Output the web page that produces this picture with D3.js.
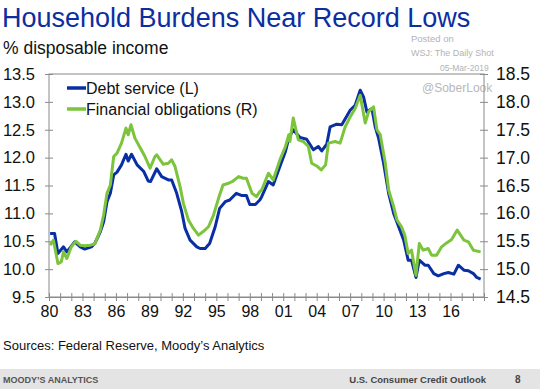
<!DOCTYPE html>
<html>
<head>
<meta charset="utf-8">
<script src="https://cdn.jsdelivr.net/npm/d3@7"></script>
<style>
  body { margin: 0; background: #fff; }
  svg { display: block; font-family: Arial, "Liberation Sans", sans-serif; }
</style>
</head>
<body>
<svg id="chart" width="540" height="389"></svg>
<script>
// Debt service ratio (left axis), % of disposable income
const debtDates = [1980.1, 1980.5, 1980.8, 1981.3, 1981.6, 1982.3, 1982.8, 1983.2, 1983.8, 1984.1,
  1984.6, 1984.9, 1985.2, 1985.5, 1985.8, 1986.1, 1986.5, 1986.9, 1987.1, 1987.4, 1987.9, 1988.5,
  1988.9, 1989.1, 1989.66, 1990.1, 1990.7, 1991.0, 1991.45, 1991.9, 1992.2, 1992.65, 1993.25,
  1993.55, 1994.0, 1994.4, 1994.9, 1995.3, 1995.8, 1996.2, 1996.8, 1997.3, 1997.7, 1998.0, 1998.5,
  1998.9, 1999.07, 1999.67, 2000.1, 2000.7, 2001.2, 2001.5, 2001.9, 2002.5, 2003.1, 2003.7, 2004.15,
  2004.45, 2004.9, 2005.2, 2005.8, 2006.25, 2007.0, 2007.45, 2007.9, 2008.2, 2008.5, 2008.95,
  2009.25, 2009.55, 2010.0, 2010.45, 2010.9, 2011.35, 2011.8, 2012.2, 2012.5, 2012.9, 2013.2,
  2013.7, 2014.0, 2014.5, 2014.9, 2015.4, 2015.8, 2016.3, 2016.7, 2017.2, 2017.6, 2018.05, 2018.35, 2018.7];
const debtValues = [10.64, 10.64, 10.28, 10.40, 10.31, 10.49, 10.40, 10.36, 10.40, 10.46,
  10.67, 10.85, 11.21, 11.36, 11.69, 11.74, 11.87, 12.06, 11.94, 12.06, 11.87, 11.75,
  11.58, 11.57, 11.80, 11.66, 11.60, 11.60, 11.36, 11.03, 10.73, 10.52, 10.40,
  10.37, 10.37, 10.46, 10.76, 11.09, 11.21, 11.24, 11.36, 11.32, 11.32, 11.16, 11.16,
  11.24, 11.30, 11.57, 11.51, 11.84, 12.11, 12.35, 12.50, 12.36, 12.33, 12.14, 12.20,
  12.12, 12.24, 12.55, 12.60, 12.59, 12.85, 12.94, 13.21, 13.09, 12.82, 12.88,
  12.55, 12.35, 11.90, 11.36, 11.00, 10.76, 10.52, 10.16, 10.16, 9.85, 10.16,
  10.07, 10.07, 9.92, 9.88, 9.92, 9.94, 9.91, 10.07, 9.98, 9.97, 9.92, 9.85, 9.82];

// Financial obligations ratio (right axis)
const finDates = [1980.1, 1980.4, 1980.8, 1981.1, 1981.3, 1981.6, 1982.0, 1982.4, 1982.8, 1983.2,
  1983.7, 1984.1, 1984.6, 1984.9, 1985.2, 1985.5, 1985.8, 1986.1, 1986.5, 1986.9, 1987.1, 1987.35,
  1987.7, 1988.2, 1988.6, 1989.06, 1989.5, 1989.66, 1990.25, 1990.7, 1991.0, 1991.3, 1991.75,
  1992.05, 1992.5, 1992.95, 1993.4, 1993.8, 1994.3, 1994.75, 1995.2, 1995.6, 1996.1, 1996.5,
  1997.0, 1997.4, 1997.7, 1998.2, 1998.6, 1998.9, 1999.07, 1999.67, 2000.1, 2000.7, 2001.2,
  2001.5, 2001.6, 2001.9, 2002.35, 2002.8, 2003.25, 2003.55, 2004.0, 2004.4, 2004.8, 2005.05,
  2005.65, 2006.1, 2006.55, 2007.0, 2007.45, 2007.9, 2008.35, 2008.65, 2009.1, 2009.4, 2009.7,
  2010.15, 2010.45, 2010.9, 2011.2, 2011.6, 2011.9, 2012.2, 2012.5, 2012.9, 2013.2, 2013.55,
  2014.0, 2014.3, 2014.75, 2015.2, 2015.65, 2016.1, 2016.6, 2017.2, 2017.6, 2018.05, 2018.7];
const finValues = [15.43, 15.52, 15.10, 15.13, 15.31, 15.19, 15.40, 15.50, 15.43, 15.42,
  15.43, 15.45, 15.70, 15.97, 16.36, 16.51, 17.02, 17.08, 17.26, 17.53, 17.41, 17.59,
  17.35, 17.17, 17.02, 16.81, 17.02, 17.05, 16.88, 16.90, 16.96, 16.84, 16.48,
  16.18, 15.88, 15.73, 15.61, 15.67, 15.76, 15.97, 16.27, 16.51, 16.54, 16.58,
  16.66, 16.63, 16.63, 16.36, 16.30, 16.39, 16.42, 16.72, 16.60, 16.96, 17.20,
  17.41, 17.29, 17.71, 17.32, 17.29, 17.20, 16.90, 16.85, 16.78, 16.87, 17.26,
  17.29, 17.26, 17.55, 17.73, 17.88, 18.12, 17.62, 17.82, 17.91, 17.50, 17.41,
  16.90, 16.42, 16.12, 15.88, 15.76, 15.61, 15.28, 15.34, 14.89, 15.46, 15.34,
  15.37, 15.25, 15.25, 15.40, 15.47, 15.53, 15.70, 15.52, 15.49, 15.34, 15.31];

const leftTicks = [9.5, 10.0, 10.5, 11.0, 11.5, 12.0, 12.5, 13.0, 13.5];
const rightTicks = [14.5, 15.0, 15.5, 16.0, 16.5, 17.0, 17.5, 18.0, 18.5];
const yearTicks = d3.range(1980, 2020);
const yearLabels = d3.range(1980, 2019, 3);

const svg = d3.select("#chart");
const margin = {left: 49, right: 56, top: 74, bottom: 92};
const width = 540, height = 389;

const x = d3.scaleLinear([1980, 2019], [margin.left, width - margin.right]);
const yL = d3.scaleLinear([9.5, 13.5], [height - margin.bottom, margin.top]);
const yR = d3.scaleLinear([14.5, 18.5], [height - margin.bottom, margin.top]);

// titles
svg.append("text").attr("x", 2).attr("y", 27)
  .attr("fill", "#0b2ea0").attr("font-size", 27).text("Household Burdens Near Record Lows");
svg.append("text").attr("x", 3).attr("y", 54)
  .attr("fill", "#111").attr("font-size", 17.5).text("% disposable income");

// watermark
svg.append("text").attr("x", 411).attr("y", 42).attr("fill", "#b3b3b3").attr("font-size", 9.5).text("Posted on");
svg.append("text").attr("x", 411).attr("y", 56).attr("fill", "#b3b3b3").attr("font-size", 9).text("WSJ: The Daily Shot");
svg.append("text").attr("x", 440).attr("y", 71).attr("fill", "#b3b3b3").attr("font-size", 8.5).text("05-Mar-2019");
svg.append("text").attr("x", 422).attr("y", 92).attr("fill", "#b8b8b8").attr("font-size", 12).text("@SoberLook");

// frame
svg.append("rect")
  .attr("x", margin.left).attr("y", margin.top)
  .attr("width", width - margin.left - margin.right)
  .attr("height", height - margin.top - margin.bottom)
  .attr("fill", "none").attr("stroke", "#8a8a8a").attr("stroke-width", 1);

// x axis
const xAxis = svg.append("g")
  .attr("transform", `translate(0,${height - margin.bottom})`)
  .call(d3.axisBottom(x).tickValues(yearTicks).tickSize(4)
    .tickFormat(d => yearLabels.includes(d) ? String(d).slice(2) : ""));
xAxis.select(".domain").attr("stroke", "#8a8a8a");
xAxis.selectAll(".tick line").attr("y1", -4).attr("y2", 4).attr("stroke", "#8a8a8a");
xAxis.selectAll(".tick text").attr("y", 9).attr("font-size", 16).attr("fill", "#111").attr("font-family", "Arial, 'Liberation Sans', sans-serif");

// left axis
const leftAxis = svg.append("g")
  .attr("transform", `translate(${margin.left},0)`)
  .call(d3.axisLeft(yL).tickValues(leftTicks).tickFormat(d3.format(".1f")).tickSize(4).tickPadding(10));
leftAxis.select(".domain").remove();
leftAxis.selectAll(".tick line").attr("x1", -4).attr("x2", 4).attr("stroke", "#8a8a8a");
leftAxis.selectAll(".tick text").attr("font-size", 16.5).attr("fill", "#111").attr("font-family", "Arial, 'Liberation Sans', sans-serif");

// right axis
const rightAxis = svg.append("g")
  .attr("transform", `translate(${width - margin.right},0)`)
  .call(d3.axisRight(yR).tickValues(rightTicks).tickFormat(d3.format(".1f")).tickSize(4).tickPadding(8));
rightAxis.select(".domain").remove();
rightAxis.selectAll(".tick line").attr("x1", -4).attr("x2", 4).attr("stroke", "#8a8a8a");
rightAxis.selectAll(".tick text").attr("font-size", 17.5).attr("fill", "#111").attr("font-family", "Arial, 'Liberation Sans', sans-serif");

// lines
const debtLine = d3.line().x((d, i) => x(debtDates[i])).y(d => yL(d));
const finLine = d3.line().x((d, i) => x(finDates[i])).y(d => yR(d));

svg.append("path").attr("d", debtLine(debtValues))
  .attr("fill", "none").attr("stroke", "#0a2ea3").attr("stroke-width", 3).attr("stroke-linejoin", "round");
svg.append("path").attr("d", finLine(finValues))
  .attr("fill", "none").attr("stroke", "#7cc43c").attr("stroke-width", 3).attr("stroke-linejoin", "round");

// legend
const legend = [
  {label: "Debt service (L)", color: "#0a2ea3", y: 88},
  {label: "Financial obligations (R)", color: "#7cc43c", y: 109}
];
legend.forEach(d => {
  svg.append("line").attr("x1", 67).attr("x2", 86).attr("y1", d.y).attr("y2", d.y)
    .attr("stroke", d.color).attr("stroke-width", 3.5);
  svg.append("text").attr("x", 86).attr("y", d.y).attr("dy", "0.35em")
    .attr("font-size", 16).attr("fill", "#111").text(d.label);
});

// source
svg.append("text").attr("x", 3).attr("y", 350).attr("font-size", 13).attr("fill", "#111")
  .text("Sources: Federal Reserve, Moody\u2019s Analytics");

// footer band
svg.append("rect").attr("x", 0).attr("y", 369).attr("width", width).attr("height", 20).attr("fill", "#e4e4e4");
svg.append("text").attr("x", 3).attr("y", 383).attr("font-size", 9).attr("font-weight", "bold")
  .attr("fill", "#555").text("MOODY\u2019S ANALYTICS");
svg.append("text").attr("x", 486).attr("y", 383).attr("font-size", 9.5).attr("font-weight", "bold")
  .attr("text-anchor", "end").attr("fill", "#444").text("U.S. Consumer Credit Outlook");
svg.append("text").attr("x", 515).attr("y", 383).attr("font-size", 10).attr("font-weight", "bold")
  .attr("fill", "#444").text("8");
</script>
</body>
</html>
